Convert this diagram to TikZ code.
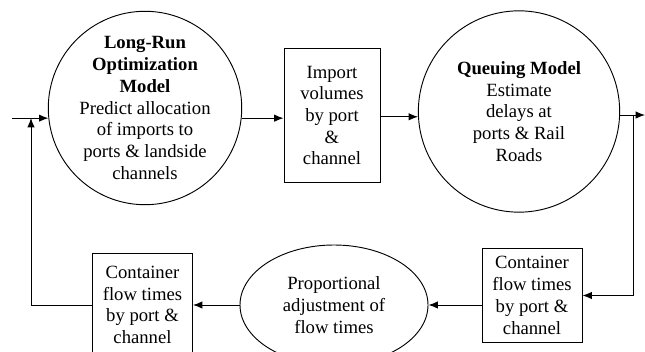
\documentclass[tikz,border=0pt]{standalone}
\usepackage{fontspec}
\setmainfont{Liberation Serif}
\usetikzlibrary{shapes.geometric,arrows.meta}

\begin{document}
\begin{tikzpicture}[x=0.75pt, y=-0.75pt, line width=0.7pt,
    >={Latex[length=7pt,width=5.5pt]},
    modelnode/.style={circle, draw=black, align=center, inner sep=0pt,
      font=\fontsize{14}{16.3}\selectfont},
    databox/.style={rectangle, draw=black, align=center, inner sep=0pt,
      font=\fontsize{14}{16.3}\selectfont},
    ovalnode/.style={ellipse, draw=black, align=center, inner sep=0pt,
      font=\fontsize{14}{16.3}\selectfont}
    ]
    \useasboundingbox (0,0) rectangle (645,352);
    \begin{scope}
    \clip (0,0) rectangle (645,352);

    \node [modelnode, minimum size=143pt] (optmodel) at (145,108)
      {\textbf{Long-Run}\\ \textbf{Optimization}\\ \textbf{Model}\\ Predict allocation\\ of imports to\\ ports \& landside\\ channels};
    \node [databox, minimum width=72pt, minimum height=101pt] (volumes) at (332,115.5)
      {Import\\ volumes\\ by port\\ \&\\ channel};
    \node [modelnode, minimum size=151pt] (queuing) at (519,111.5)
      {\textbf{Queuing Model}\\ Estimate\\ delays at\\ ports \& Rail\\ Roads};

    \node [databox, minimum width=75pt, minimum height=70pt] (flowin) at (532,295.5)
      {Container\\ flow times\\ by port \&\\ channel};
    \node [ovalnode, minimum width=141pt, minimum height=90pt] (adjust) at (334,305)
      {Proportional\\ adjustment of\\ flow times};
    \node [databox, minimum width=75pt, minimum height=78pt] (flowout) at (142.5,305)
      {Container\\ flow times\\ by port \&\\ channel};

    \coordinate (start) at (12,118);
    \coordinate (merge) at (31,118);
    \coordinate (split) at (633,114);
    \coordinate (finish) at (645,114);

    \draw[->] (optmodel.186 -| start) -- (optmodel.186);
    \draw[->] (optmodel.354) -- (optmodel.354 -| volumes.west);
    \draw[->] (volumes.east |- queuing.183) -- (queuing.183);
    \draw[->] (queuing.358.5) -- (queuing.358.5 -| finish);
    \draw[->] (queuing.358.5 -| split) |- (flowin.east);
    \draw[->] (flowin.west |- adjust.east) -- (adjust.east);
    \draw[->] (adjust.west) -- (flowout.east);
    \draw[->] (flowout.west) -| (merge);
    \end{scope}
  \end{tikzpicture}
\end{document}
